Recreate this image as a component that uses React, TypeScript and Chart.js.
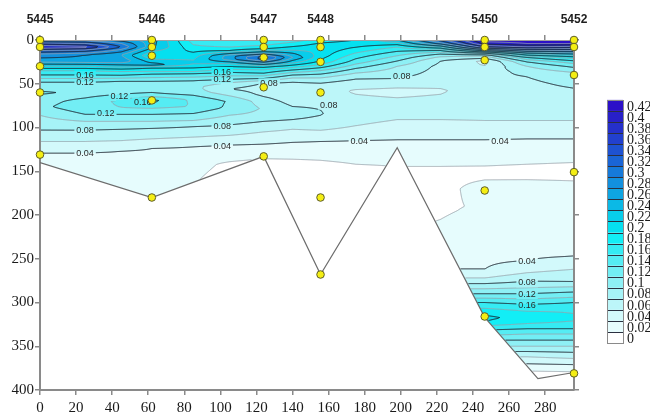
import React, { useEffect, useRef } from 'react';
import { Chart, registerables } from 'chart.js';

Chart.register(...registerables);

const X_MAX = 296;
const DEPTH_MAX = 400;

const stationNames = ['5445', '5446', '5447', '5448', '5450', '5452'];
const stationDistance = [0, 62, 124, 155.5, 246.5, 296];

const sampleDistance = [
  0, 0, 0, 0, 0,
  62, 62, 62, 62, 62,
  124, 124, 124, 124, 124,
  155.5, 155.5, 155.5, 155.5, 155.5, 155.5,
  246.5, 246.5, 246.5, 246.5, 246.5,
  296, 296, 296, 296, 296,
];
const sampleDepth = [
  0, 8, 30, 60, 131,
  0, 8, 18, 69, 180,
  0, 8, 20, 54, 133,
  0, 8, 25, 60, 180, 268,
  0, 8, 23, 172, 316,
  0, 8, 40, 151, 381,
];

const bottomDistance = [0, 62, 124, 155.5, 198, 246.5, 276, 296];
const bottomDepth = [140, 180, 133, 268, 123, 317, 387, 380];

const profileDistance = [0, 25, 45, 62, 85, 105, 124, 140, 155.5, 175, 198, 222, 246.5, 270, 296];

const profileDepth: number[][] = [
  [0, 4, 8, 12, 17, 24, 30, 35, 40, 48, 55, 60, 66, 76, 86, 95, 103, 116, 129, 145, 200, 400],
  [0, 4, 8, 12, 17, 24, 30, 35, 40, 48, 55, 62, 70, 77, 85, 93, 103, 116, 129, 145, 200, 400],
  [0, 4, 8, 12, 17, 24, 31, 35, 40, 47, 55, 62, 70, 77, 85, 93, 102, 115, 127, 145, 200, 400],
  [0, 8, 14, 18, 24, 28, 32, 35, 39, 47, 55, 62, 69, 73, 78, 85, 93, 101, 113, 124, 145, 200, 400],
  [0, 8, 14, 20, 26, 32, 36, 38.5, 46.5, 53, 60, 68, 76, 84, 92, 99, 111, 122, 140, 160, 400],
  [0, 6, 12, 18, 22, 27, 32, 37, 45, 50, 56, 62, 70, 78, 86, 97, 109, 120, 132, 142, 165, 400],
  [0, 5, 10, 15, 19, 22, 26, 30, 34, 38, 44, 49, 55, 62, 70, 78, 85, 93, 105, 119, 133, 145, 165, 400],
  [0, 5, 10, 15, 20, 25, 30, 35, 40, 46, 52, 60, 68, 76, 84, 91, 102, 117, 130, 140, 165, 400],
  [0, 5, 10, 18, 25, 30, 35, 40, 46, 52, 60, 68, 76, 84, 90, 100, 116, 130, 142, 165, 400],
  [0, 5, 10, 18, 25, 30, 35, 42, 50, 58, 66, 76, 86, 98, 115, 128, 140, 150, 165, 200, 400],
  [0, 4, 8, 13, 18, 24, 30, 37, 44, 51, 58, 66, 76, 91, 102, 114, 128, 142, 152, 170, 200, 230, 400],
  [0, 4, 8, 12, 16, 20, 24, 30, 40, 48, 58, 66, 78, 91, 102, 114, 128, 142, 152, 170, 195, 210, 240, 262, 272, 280, 290, 300, 310, 317, 322, 330, 336, 343, 350, 356, 362, 370, 378, 390],
  [0, 4, 8, 12, 15, 18, 21, 24, 28, 32, 40, 55, 70, 85, 92, 102, 114, 128, 142, 150, 160, 170, 190, 210, 240, 262, 272, 280, 290, 300, 310, 317, 322, 330, 336, 343, 350, 356, 362, 370, 378, 390],
  [0, 4, 8, 12, 16, 20, 25, 30, 36, 42, 50, 60, 75, 88, 92, 102, 113, 126, 140, 148, 158, 166, 200, 240, 252, 266, 278, 290, 302, 312, 318, 324, 330, 336, 343, 350, 356, 362, 370, 378, 390],
  [0, 4, 8, 12, 16, 20, 25, 30, 37, 45, 55, 65, 78, 88, 92, 102, 113, 126, 138, 146, 155, 163, 175, 200, 235, 247, 262, 276, 288, 300, 310, 318, 324, 330, 336, 343, 350, 357, 364, 371, 379, 390],
];

const profileValue: number[][] = [
  [0.29, 0.35, 0.405, 0.34, 0.29, 0.27, 0.22, 0.18, 0.16, 0.12, 0.108, 0.125, 0.11, 0.115, 0.1, 0.09, 0.08, 0.06, 0.04, 0.033, 0.03, 0.03],
  [0.29, 0.34, 0.39, 0.33, 0.28, 0.275, 0.22, 0.18, 0.16, 0.12, 0.108, 0.112, 0.127, 0.133, 0.12, 0.1, 0.08, 0.06, 0.04, 0.032, 0.028, 0.028],
  [0.27, 0.3, 0.32, 0.29, 0.26, 0.275, 0.22, 0.185, 0.162, 0.12, 0.108, 0.12, 0.145, 0.14, 0.12, 0.1, 0.08, 0.06, 0.04, 0.03, 0.025, 0.025],
  [0.25, 0.245, 0.215, 0.2, 0.23, 0.25, 0.2, 0.185, 0.16, 0.12, 0.108, 0.125, 0.165, 0.16, 0.14, 0.12, 0.1, 0.08, 0.06, 0.04, 0.027, 0.022, 0.022],
  [0.17, 0.185, 0.2, 0.215, 0.225, 0.2, 0.18, 0.16, 0.12, 0.105, 0.11, 0.135, 0.138, 0.12, 0.1, 0.08, 0.06, 0.04, 0.024, 0.021, 0.019],
  [0.16, 0.17, 0.2, 0.27, 0.27, 0.22, 0.19, 0.16, 0.12, 0.095, 0.08, 0.095, 0.118, 0.115, 0.1, 0.08, 0.06, 0.04, 0.025, 0.018, 0.014, 0.014],
  [0.16, 0.175, 0.2, 0.26, 0.33, 0.33, 0.27, 0.21, 0.18, 0.16, 0.12, 0.08, 0.071, 0.075, 0.09, 0.098, 0.095, 0.08, 0.06, 0.04, 0.022, 0.013, 0.01, 0.01],
  [0.17, 0.19, 0.21, 0.24, 0.26, 0.23, 0.19, 0.155, 0.12, 0.085, 0.072, 0.066, 0.07, 0.08, 0.085, 0.08, 0.06, 0.04, 0.025, 0.017, 0.01, 0.01],
  [0.19, 0.205, 0.215, 0.21, 0.195, 0.17, 0.14, 0.115, 0.088, 0.074, 0.066, 0.07, 0.079, 0.081, 0.078, 0.065, 0.04, 0.025, 0.017, 0.01, 0.012],
  [0.2, 0.21, 0.195, 0.17, 0.15, 0.13, 0.11, 0.085, 0.07, 0.058, 0.062, 0.07, 0.068, 0.06, 0.04, 0.028, 0.021, 0.016, 0.013, 0.015, 0.02],
  [0.24, 0.21, 0.18, 0.16, 0.14, 0.12, 0.1, 0.09, 0.08, 0.066, 0.055, 0.06, 0.067, 0.06, 0.052, 0.04, 0.028, 0.021, 0.017, 0.015, 0.016, 0.02, 0.02],
  [0.33, 0.29, 0.22, 0.16, 0.12, 0.095, 0.08, 0.075, 0.072, 0.066, 0.058, 0.062, 0.066, 0.06, 0.052, 0.04, 0.028, 0.021, 0.017, 0.016, 0.018, 0.021, 0.032, 0.04, 0.06, 0.085, 0.12, 0.16, 0.19, 0.2, 0.195, 0.165, 0.145, 0.12, 0.1, 0.08, 0.06, 0.04, 0.02, 0.01],
  [0.43, 0.41, 0.36, 0.25, 0.16, 0.1, 0.08, 0.055, 0.058, 0.065, 0.072, 0.07, 0.068, 0.064, 0.06, 0.052, 0.04, 0.028, 0.021, 0.017, 0.02, 0.025, 0.022, 0.027, 0.032, 0.04, 0.06, 0.085, 0.12, 0.16, 0.19, 0.205, 0.2, 0.165, 0.145, 0.12, 0.1, 0.08, 0.06, 0.04, 0.02, 0.01],
  [0.43, 0.42, 0.38, 0.3, 0.22, 0.16, 0.12, 0.1, 0.088, 0.08, 0.076, 0.073, 0.068, 0.062, 0.06, 0.052, 0.04, 0.028, 0.021, 0.017, 0.019, 0.024, 0.028, 0.034, 0.04, 0.06, 0.085, 0.12, 0.16, 0.185, 0.192, 0.18, 0.16, 0.14, 0.12, 0.1, 0.08, 0.06, 0.04, 0.02, 0.01],
  [0.44, 0.42, 0.37, 0.3, 0.24, 0.19, 0.15, 0.125, 0.1, 0.088, 0.08, 0.076, 0.07, 0.063, 0.06, 0.052, 0.04, 0.028, 0.021, 0.017, 0.017, 0.021, 0.026, 0.028, 0.034, 0.04, 0.06, 0.08, 0.12, 0.16, 0.178, 0.184, 0.176, 0.16, 0.14, 0.12, 0.1, 0.08, 0.06, 0.04, 0.02, 0.01],
];

const colorLevels = [0, 0.02, 0.04, 0.06, 0.08, 0.1, 0.12, 0.14, 0.16, 0.18, 0.2, 0.22, 0.24, 0.26, 0.28, 0.3, 0.32, 0.34, 0.36, 0.38, 0.4, 0.42];
const bandColors = [
  '#ffffff', '#e6fcfd', '#d2f9fb', '#bcf6f9', '#a6f3f7', '#8ef0f5', '#72eef4', '#55ecf3',
  '#35ebf3', '#12eef6', '#05e0f0', '#08cdeb', '#0bb9e6', '#0ea5e2', '#1290de', '#167ada',
  '#1a65d6', '#1e52d2', '#2240ce', '#2530cb', '#2820c8', '#2c10c8',
];

const labelDistance = [25, 25, 44, 57, 36.5, 25, 25, 101, 101, 127, 101, 101, 200.5, 160, 177, 255, 270, 270, 270, 270];
const labelDepth = [40, 48, 64, 71, 84, 103, 129, 36.5, 44.5, 49.5, 98, 121, 41, 74, 116, 115, 253, 277, 290.5, 303];
const labelText = ['0.16', '0.12', '0.12', '0.16', '0.12', '0.08', '0.04', '0.16', '0.12', '0.08', '0.08', '0.04', '0.08', '0.08', '0.04', '0.04', '0.04', '0.08', '0.12', '0.16'];

const SERIF = '"Liberation Serif", "Times New Roman", Times, serif';
const SANS = '"Liberation Sans", Arial, Helvetica, sans-serif';
const AXIS = '#8a8a8a';
const STEP = 0.02;

function interp(xs: number[], ys: number[], x: number): number {
  const n = xs.length;
  if (x <= xs[0]) return ys[0];
  if (x >= xs[n - 1]) return ys[n - 1];
  let k = 0;
  while (x > xs[k + 1]) k++;
  const t = (x - xs[k]) / (xs[k + 1] - xs[k]);
  return ys[k] + t * (ys[k + 1] - ys[k]);
}

function hexToRgb(h: string): number[] {
  const n = parseInt(h.slice(1), 16);
  return [(n >> 16) & 255, (n >> 8) & 255, n & 255];
}

const fieldPlugin = {
  id: 'field',
  beforeDraw(chart: any) {
    const { ctx, chartArea, scales } = chart;
    const xs = scales.x;
    const ys = scales.y;
    const left = Math.round(chartArea.left);
    const top = Math.round(chartArea.top);
    const W = Math.round(chartArea.right) - left;
    const H = Math.round(chartArea.bottom) - top;

    const depths = new Float64Array(H);
    for (let j = 0; j < H; j++) depths[j] = ys.getValueForPixel(top + j + 0.5);
    const cols = profileDistance.map((_, k) => {
      const arr = new Float64Array(H);
      for (let j = 0; j < H; j++) arr[j] = interp(profileDepth[k], profileValue[k], depths[j]);
      return arr;
    });

    const field = new Float64Array(W * H);
    for (let i = 0; i < W; i++) {
      const x = xs.getValueForPixel(left + i + 0.5);
      let k = 0;
      while (k < profileDistance.length - 2 && x > profileDistance[k + 1]) k++;
      let t = (x - profileDistance[k]) / (profileDistance[k + 1] - profileDistance[k]);
      t = Math.max(0, Math.min(1, t));
      const bd = interp(bottomDistance, bottomDepth, x);
      const c0 = cols[k];
      const c1 = cols[k + 1];
      for (let j = 0; j < H; j++) {
        const idx = j * W + i;
        if (depths[j] > bd) field[idx] = NaN;
        else field[idx] = c0[j] * (1 - t) + c1[j] * t;
      }
    }

    const rgb = bandColors.map(hexToRgb);
    const img = ctx.createImageData(W, H);
    const data = img.data;
    for (let idx = 0; idx < W * H; idx++) {
      const v = field[idx];
      const p = idx * 4;
      if (isNaN(v)) {
        data[p] = 255; data[p + 1] = 255; data[p + 2] = 255; data[p + 3] = 255;
        continue;
      }
      let b = Math.floor(v / STEP + 1e-9);
      if (b < 0) b = 0;
      if (b > bandColors.length - 1) b = bandColors.length - 1;
      const c = rgb[b];
      data[p] = c[0]; data[p + 1] = c[1]; data[p + 2] = c[2]; data[p + 3] = 255;
    }
    ctx.putImageData(img, left, top);

    // contour lines (marching squares)
    const dark = new Path2D();
    const light = new Path2D();
    const maxM = colorLevels.length - 1;
    for (let j = 0; j < H - 1; j++) {
      for (let i = 0; i < W - 1; i++) {
        const a = field[j * W + i];
        const b = field[j * W + i + 1];
        const c = field[(j + 1) * W + i + 1];
        const d = field[(j + 1) * W + i];
        if (isNaN(a) || isNaN(b) || isNaN(c) || isNaN(d)) continue;
        const mn = Math.min(a, b, c, d);
        const mx = Math.max(a, b, c, d);
        let m0 = Math.ceil(mn / STEP - 1e-9);
        if (m0 < 1) m0 = 1;
        const m1 = Math.min(maxM, Math.floor(mx / STEP + 1e-9));
        const x0 = left + i + 0.5;
        const y0 = top + j + 0.5;
        for (let m = m0; m <= m1; m++) {
          const L = colorLevels[m];
          const sa = a >= L, sb = b >= L, sc = c >= L, sd = d >= L;
          if (sa === sb && sb === sc && sc === sd) continue;
          const pts: number[] = [];
          if (sa !== sb) pts.push(x0 + (L - a) / (b - a), y0);
          if (sb !== sc) pts.push(x0 + 1, y0 + (L - b) / (c - b));
          if (sc !== sd) pts.push(x0 + (L - d) / (c - d), y0 + 1);
          if (sd !== sa) pts.push(x0, y0 + (L - a) / (d - a));
          const path = m % 2 === 0 ? dark : light;
          if (pts.length === 4) {
            path.moveTo(pts[0], pts[1]);
            path.lineTo(pts[2], pts[3]);
          } else if (pts.length === 8) {
            path.moveTo(pts[0], pts[1]);
            path.lineTo(pts[2], pts[3]);
            path.moveTo(pts[4], pts[5]);
            path.lineTo(pts[6], pts[7]);
          }
        }
      }
    }

    ctx.save();
    ctx.font = `9px ${SANS}`;
    ctx.beginPath();
    ctx.rect(left, top, W, H);
    for (let n = 0; n < labelText.length; n++) {
      const px = xs.getPixelForValue(labelDistance[n]);
      const py = ys.getPixelForValue(labelDepth[n]);
      const w = ctx.measureText(labelText[n]).width + 4;
      ctx.rect(px - w / 2, py - 5, w, 10);
    }
    ctx.clip('evenodd');
    ctx.lineWidth = 0.9;
    ctx.strokeStyle = 'rgba(150,162,170,0.95)';
    ctx.stroke(light);
    ctx.lineWidth = 1;
    ctx.strokeStyle = '#1c2530';
    ctx.stroke(dark);
    ctx.restore();

    ctx.save();
    ctx.font = `9px ${SANS}`;
    ctx.fillStyle = '#2a2a2a';
    ctx.textAlign = 'center';
    ctx.textBaseline = 'middle';
    for (let n = 0; n < labelText.length; n++) {
      const px = xs.getPixelForValue(labelDistance[n]);
      const py = ys.getPixelForValue(labelDepth[n]);
      ctx.fillText(labelText[n], px, py + 0.5);
    }
    ctx.restore();
  },
};

const overlayPlugin = {
  id: 'overlay',
  afterDraw(chart: any) {
    const { ctx, scales } = chart;
    const xs = scales.x;
    ctx.save();
    ctx.font = `bold 12px ${SANS}`;
    ctx.fillStyle = '#1e1e1e';
    ctx.textAlign = 'center';
    ctx.textBaseline = 'middle';
    for (let k = 0; k < stationNames.length; k++) {
      ctx.fillText(stationNames[k], xs.getPixelForValue(stationDistance[k]), 20);
    }
    ctx.restore();

    // colour scale
    const bx = 607;
    const bw = 16;
    const bottom = 343;
    const bh = 11.05;
    const n = bandColors.length;
    ctx.save();
    for (let i = 0; i < n; i++) {
      ctx.fillStyle = bandColors[i];
      ctx.fillRect(bx, bottom - (i + 1) * bh, bw, bh);
    }
    ctx.strokeStyle = '#2a3040';
    ctx.lineWidth = 1;
    for (let i = 1; i < n; i++) {
      const y = Math.round(bottom - i * bh) + 0.5;
      ctx.beginPath();
      ctx.moveTo(bx, y);
      ctx.lineTo(bx + bw, y);
      ctx.stroke();
    }
    ctx.strokeStyle = '#8a8a8a';
    ctx.strokeRect(bx + 0.5, Math.round(bottom - n * bh) + 0.5, bw, Math.round(n * bh));
    ctx.font = `14px ${SERIF}`;
    ctx.fillStyle = '#1a1a1a';
    ctx.textAlign = 'left';
    ctx.textBaseline = 'middle';
    for (let i = 0; i < colorLevels.length; i++) {
      ctx.fillText(String(colorLevels[i]), bx + bw + 4, bottom - i * bh - 4);
    }
    ctx.restore();
  },
};

export default function App() {
  const ref = useRef<HTMLCanvasElement>(null);
  useEffect(() => {
    const canvas = ref.current;
    if (!canvas) return;
    const samples = sampleDistance.map((x, i) => ({ x, y: sampleDepth[i] }));
    const bottomLine = bottomDistance.map((x, i) => ({ x, y: bottomDepth[i] }));
    const gridOpts = { drawOnChartArea: false, drawTicks: true, tickLength: 5, color: AXIS, lineWidth: 1.5 };
    const tickFont = { family: SERIF, size: 15 };
    const chart = new Chart(canvas, {
      type: 'scatter',
      data: {
        datasets: [
          {
            label: 'stations',
            data: samples,
            pointRadius: 3.8,
            pointBackgroundColor: '#f4ee14',
            pointBorderColor: '#5e5e28',
            pointBorderWidth: 1,
            clip: false,
            order: 0,
          } as any,
          {
            label: 'bottom',
            data: bottomLine,
            showLine: true,
            pointRadius: 0,
            borderColor: '#6c6c6c',
            borderWidth: 1.2,
            tension: 0,
            order: 1,
          } as any,
        ],
      },
      options: {
        responsive: false,
        animation: false,
        devicePixelRatio: 1,
        events: [],
        layout: { padding: 0 },
        plugins: { legend: { display: false }, tooltip: { enabled: false } },
        scales: {
          x: {
            type: 'linear',
            position: 'bottom',
            min: 0,
            max: X_MAX,
            afterFit: (s: any) => { s.height = 25; },
            ticks: { stepSize: 20, includeBounds: false, autoSkip: false, maxRotation: 0, padding: 4, color: '#1a1a1a', font: tickFont },
            grid: gridOpts,
            border: { display: true, color: AXIS, width: 2 },
          },
          x2: {
            type: 'linear',
            position: 'top',
            min: 0,
            max: X_MAX,
            afterFit: (s: any) => { s.height = 40; },
            ticks: { stepSize: 20, includeBounds: false, display: false },
            grid: gridOpts,
            border: { display: true, color: '#a0a0a0', width: 1 },
          },
          y: {
            type: 'linear',
            position: 'left',
            reverse: true,
            min: 0,
            max: DEPTH_MAX,
            afterFit: (s: any) => { s.width = 40; },
            ticks: { stepSize: 50, padding: 1, color: '#1a1a1a', font: tickFont },
            grid: gridOpts,
            border: { display: true, color: AXIS, width: 2 },
          },
          y2: {
            type: 'linear',
            position: 'right',
            reverse: true,
            min: 0,
            max: DEPTH_MAX,
            afterFit: (s: any) => { s.width = 76; },
            ticks: { stepSize: 50, display: false },
            grid: gridOpts,
            border: { display: true, color: AXIS, width: 2 },
          },
        },
      } as any,
      plugins: [fieldPlugin, overlayPlugin],
    });
    return () => chart.destroy();
  }, []);
  return (
    <div style={{ position: 'fixed', left: 0, top: 0, width: 650, height: 415, background: '#ffffff' }}>
      <canvas ref={ref} width={650} height={415} style={{ display: 'block', width: 650, height: 415 }} />
    </div>
  );
}
